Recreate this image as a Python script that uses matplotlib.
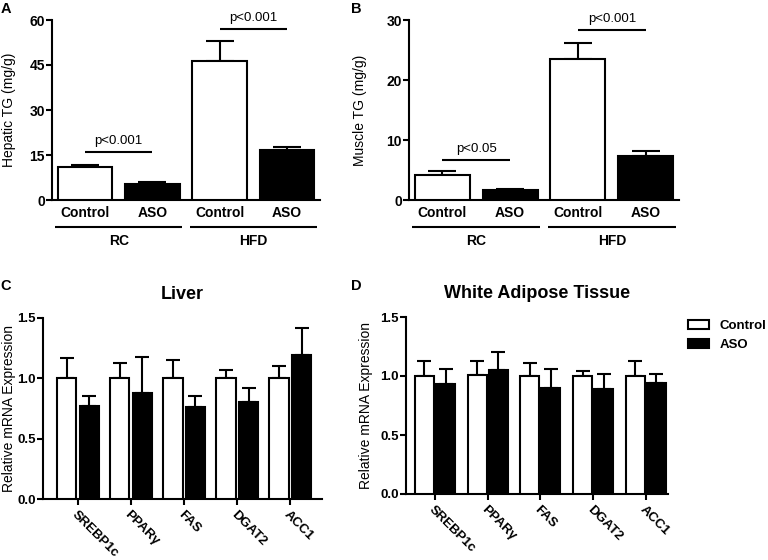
import matplotlib
matplotlib.use("Agg")
import matplotlib.pyplot as plt
from matplotlib.patches import Patch
import numpy as np

plt.rcParams['font.family'] = ['Liberation Sans', 'DejaVu Sans']

# ---------------- data ----------------
diet_groups = ['RC', 'HFD']
treatments = ['Control', 'ASO']
bar_labels = ['Control', 'ASO', 'Control', 'ASO']

hepatic_mean = [11.1, 5.3, 46.2, 16.6]
hepatic_err = [0.7, 0.8, 6.9, 1.2]
hepatic_p = ['p<0.001', 'p<0.001']
hepatic_p_y = [15.9, 57.0]

muscle_mean = [4.17, 1.67, 23.5, 7.4]
muscle_err = [0.66, 0.16, 2.7, 0.8]
muscle_p = ['p<0.05', 'p<0.001']
muscle_p_y = [6.67, 28.3]

genes = ['SREBP1c', 'PPARγ', 'FAS', 'DGAT2', 'ACC1']
liver_ctrl = [1.0, 1.0, 1.0, 1.0, 1.0]
liver_ctrl_err = [0.17, 0.13, 0.15, 0.07, 0.10]
liver_aso = [0.77, 0.88, 0.76, 0.80, 1.19]
liver_aso_err = [0.08, 0.30, 0.09, 0.12, 0.23]

wat_ctrl = [1.0, 1.01, 1.0, 1.0, 1.0]
wat_ctrl_err = [0.13, 0.12, 0.11, 0.04, 0.13]
wat_aso = [0.93, 1.05, 0.90, 0.89, 0.94]
wat_aso_err = [0.13, 0.15, 0.16, 0.13, 0.08]

# ---------------- figure ----------------
W, H = 768, 560
fig = plt.figure(figsize=(W / 100, H / 100), dpi=100)


def px_axes(left, top, right, bottom):
    return fig.add_axes([left / W, 1 - bottom / H, (right - left) / W, (bottom - top) / H])


LW = 1.5


def style(ax):
    for s in ['top', 'right']:
        ax.spines[s].set_visible(False)
    for s in ['left', 'bottom']:
        ax.spines[s].set_linewidth(LW)
    ax.tick_params(axis='y', length=4, width=LW, labelsize=10, pad=1)
    for lab in ax.get_yticklabels():
        lab.set_fontweight('bold')


def tg_panel(ax, means, errs, pvals, pys, yticks, ylabel, label_x_px, axleft_px, axwidth_px):
    x = np.arange(len(means))
    colors = ['white', 'black', 'white', 'black']
    ax.errorbar(x, means, yerr=[np.zeros(len(errs)), errs], fmt='none',
                ecolor='black', elinewidth=LW, capsize=10, capthick=LW, zorder=2)
    ax.bar(x, means, width=0.81, color=colors, edgecolor='black', linewidth=LW, zorder=3)
    ax.set_xlim(-0.49, 3.49)
    ax.set_ylim(0, yticks[-1])
    ax.set_yticks(yticks)
    ax.set_xticks(x)
    ax.set_xticklabels(bar_labels, fontsize=10, fontweight='bold')
    ax.tick_params(axis='x', length=0, pad=4)
    style(ax)
    ax.set_ylabel(ylabel, fontsize=10, va='center')
    ax.yaxis.set_label_coords((label_x_px - axleft_px) / axwidth_px, 0.5)
    # significance bars
    for (a, b), txt, yy in zip([(0, 1), (2, 3)], pvals, pys):
        ax.plot([a, b], [yy, yy], color='black', lw=LW, clip_on=False, solid_capstyle='butt')
        ax.annotate(txt, xy=((a + b) / 2, yy), xytext=(0, 3.5), textcoords='offset points',
                    ha='center', va='bottom', fontsize=9.5, annotation_clip=False)
    # diet groups
    trans = ax.get_xaxis_transform()
    for (a, b), g in zip([(0, 1), (2, 3)], diet_groups):
        ax.plot([a - 0.44, b + 0.44], [-0.15, -0.15], color='black', lw=LW,
                transform=trans, clip_on=False, solid_capstyle='butt')
        ax.text((a + b) / 2, -0.225, g, transform=trans, ha='center', va='center',
                fontsize=10, fontweight='bold')


axA = px_axes(52, 20, 320, 200)
tg_panel(axA, hepatic_mean, hepatic_err, hepatic_p, hepatic_p_y, [0, 15, 30, 45, 60],
         'Hepatic TG (mg/g)', 9, 52, 268)

axB = px_axes(409, 20, 679, 200)
tg_panel(axB, muscle_mean, muscle_err, muscle_p, muscle_p_y, [0, 10, 20, 30],
         'Muscle TG (mg/g)', 360, 409, 270)


def gene_panel(ax, ctrl, ctrl_err, aso, aso_err, title, xlim, off, width, label_x_px, axleft_px, axwidth_px):
    x = np.arange(len(genes))
    z = np.zeros(len(genes))
    ax.errorbar(x - off, ctrl, yerr=[z, ctrl_err], fmt='none', ecolor='black',
                elinewidth=LW, capsize=4.7, capthick=LW, zorder=2)
    ax.errorbar(x + off, aso, yerr=[z, aso_err], fmt='none', ecolor='black',
                elinewidth=LW, capsize=4.7, capthick=LW, zorder=2)
    ax.bar(x - off, ctrl, width=width, color='white', edgecolor='black', linewidth=LW,
           zorder=3, label=treatments[0])
    ax.bar(x + off, aso, width=width, color='black', edgecolor='black', linewidth=LW,
           zorder=3, label=treatments[1])
    ax.set_xlim(*xlim)
    ax.set_ylim(0, 1.5)
    ax.set_yticks([0.0, 0.5, 1.0, 1.5])
    ax.set_yticklabels(['0.0', '0.5', '1.0', '1.5'])
    ax.set_xticks(x)
    ax.set_xticklabels(genes, rotation=-45, ha='left', va='top', rotation_mode='anchor',
                       fontsize=9.5, fontweight='bold')
    ax.tick_params(axis='x', length=4, width=LW, pad=3)
    style(ax)
    ax.tick_params(axis='y', labelsize=9.5)
    ax.set_title(title, fontsize=13, fontweight='bold', pad=14)
    ax.set_ylabel('Relative mRNA Expression', fontsize=10, va='center')
    ax.yaxis.set_label_coords((label_x_px - axleft_px) / axwidth_px, 0.5)


axC = px_axes(43, 318, 322, 499)
gene_panel(axC, liver_ctrl, liver_ctrl_err, liver_aso, liver_aso_err, 'Liver',
           (-0.66, 4.6), 0.215, 0.37, 9, 43, 279)

axD = px_axes(406, 317, 668, 494)
gene_panel(axD, wat_ctrl, wat_ctrl_err, wat_aso, wat_aso_err, 'White Adipose Tissue',
           (-0.55, 4.42), 0.2, 0.36, 366, 406, 262)

handles = [Patch(facecolor='white', edgecolor='black', linewidth=LW, label=treatments[0]),
           Patch(facecolor='black', edgecolor='black', linewidth=LW, label=treatments[1])]
leg = axD.legend(handles=handles, loc='upper left',
                 bbox_to_anchor=((688 - 406) / 262, (494 - 320) / 177),
                 frameon=False, handlelength=1.6, handleheight=0.6,
                 handletextpad=0.8, borderpad=0, borderaxespad=0, labelspacing=0.55,
                 prop={'weight': 'bold', 'size': 9.5})

# panel letters
for txt, xp, yp in [('A', 6, 9), ('B', 356, 9), ('C', 6, 286), ('D', 356, 286)]:
    fig.text(xp / W, 1 - yp / H, txt, ha='center', va='center', fontsize=10.5, fontweight='bold')

fig.savefig('out.png', dpi=100)
